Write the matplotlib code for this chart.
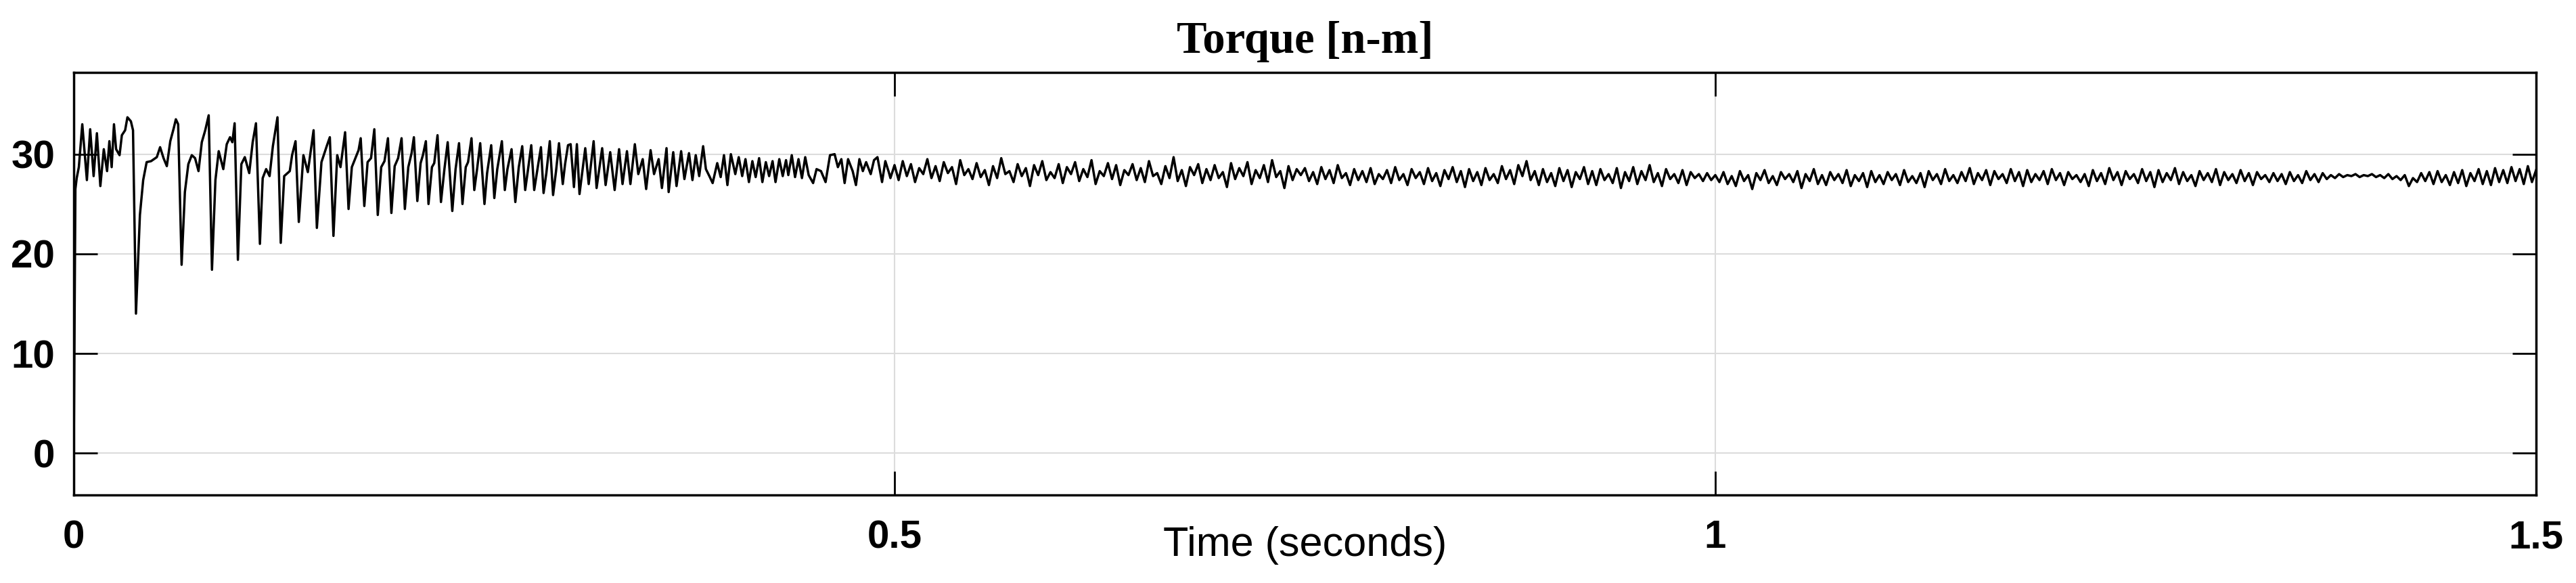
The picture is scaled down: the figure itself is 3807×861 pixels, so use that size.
import numpy as np
import matplotlib
matplotlib.use("Agg")
import matplotlib.pyplot as plt

# Start-up transient, time in s, torque in N-m
t_start = [0.0, 0.0010, 0.0018, 0.0031, 0.0052, 0.0080, 0.0100, 0.0121, 0.0141,
           0.0162, 0.0183, 0.0203, 0.0217, 0.0231, 0.0245, 0.0258, 0.0279,
           0.0293, 0.0313, 0.0327, 0.0348, 0.0361, 0.0379, 0.0403, 0.0423,
           0.0444, 0.0471, 0.0506, 0.0526, 0.0547, 0.0567, 0.0588, 0.0609,
           0.0622, 0.0636, 0.0657, 0.0677, 0.0698, 0.0719, 0.0739, 0.0760,
           0.0780, 0.0801, 0.0822, 0.0842, 0.0863, 0.0883, 0.0911, 0.0932,
           0.0952, 0.0966, 0.0980, 0.1000, 0.1021, 0.1042, 0.1069, 0.1090,
           0.1110, 0.1134, 0.1151, 0.1172, 0.1193, 0.1213, 0.1241, 0.1261,
           0.1282, 0.1316, 0.1330, 0.1351, 0.1371, 0.1399, 0.1426, 0.1461,
           0.1481]
v_start = [0.0, 26.5, 27.6, 28.7, 33.0, 27.4, 32.5, 27.8, 32.1,
           26.8, 30.5, 28.3, 31.3, 28.7, 33.0, 30.5, 29.9,
           31.9, 32.4, 33.7, 33.3, 32.4, 14.0, 23.9, 27.4,
           29.2, 29.3, 29.7, 30.7, 29.6, 28.8, 31.3, 32.6,
           33.5, 33.0, 18.9, 26.2, 29.0, 29.9, 29.6, 28.3,
           31.2, 32.4, 33.9, 18.4, 27.4, 30.3, 28.5, 31.0,
           31.7, 31.2, 33.1, 19.4, 29.0, 29.7, 28.1, 31.2,
           33.1, 21.0, 27.6, 28.5, 27.8, 30.8, 33.7, 21.1,
           27.8, 28.3, 29.9, 31.3, 23.2, 29.9, 28.2, 32.4,
           22.6]

# Decaying sawtooth ripple
t_ripple = [0.1509, 0.1543, 0.1560, 0.1582, 0.1605, 0.1625, 0.1653, 0.1674,
            0.1694, 0.1735, 0.1748, 0.1770, 0.1790, 0.1811, 0.1831, 0.1852,
            0.1873, 0.1893, 0.1914, 0.1935, 0.1955, 0.1976, 0.1997, 0.2017,
            0.2038, 0.2058, 0.2072, 0.2093, 0.2113, 0.2127, 0.2145, 0.2161,
            0.2182, 0.2196, 0.2216, 0.2237, 0.2258, 0.2278, 0.2306, 0.2326,
            0.2347, 0.2368, 0.2388, 0.2402, 0.2423, 0.2440, 0.2457, 0.2476,
            0.2502, 0.2518, 0.2543, 0.2562, 0.2580, 0.2608, 0.2626, 0.2642,
            0.2667, 0.2690, 0.2711, 0.2732, 0.2750, 0.2766, 0.2787, 0.2805,
            0.2821, 0.2846, 0.2862, 0.2879, 0.2900, 0.2920, 0.2938, 0.2956,
            0.2979, 0.2993, 0.3011]
v_ripple = [29.2, 30.9, 31.7, 21.8, 29.9, 28.7, 32.2, 24.5,
            28.7, 30.4, 31.6, 24.8, 29.2, 29.6, 32.5, 23.9,
            28.7, 29.3, 31.6, 24.1, 28.8, 29.6, 31.6, 24.5,
            28.7, 30.1, 31.7, 25.3, 29.1, 29.9, 31.3, 25.0,
            28.7, 29.1, 31.9, 25.2, 28.5, 31.2, 24.3, 28.5,
            31.1, 25.0, 28.7, 29.2, 31.6, 26.4, 28.5, 31.1,
            25.0, 28.1, 30.9, 25.6, 28.5, 31.3, 26.4, 28.5,
            30.5, 25.2, 28.7, 30.8, 26.4, 28.3, 30.9, 26.4,
            28.1, 30.7, 26.1, 28.1, 31.3, 25.9, 28.3, 31.1,
            27.0, 29.0, 30.9]

# Ripple settling down, 0.30 - 0.50 s
t_settle = [0.3027, 0.3047, 0.3065, 0.3081, 0.3116, 0.3137, 0.3167, 0.3185,
            0.3219, 0.3240, 0.3268, 0.3295, 0.3322, 0.3343, 0.3370, 0.3391,
            0.3418, 0.3439, 0.3466, 0.3487, 0.3514, 0.3535, 0.3563, 0.3583,
            0.3611, 0.3624, 0.3652, 0.3672, 0.3700, 0.3720, 0.3748, 0.3769,
            0.3789, 0.3810, 0.3834, 0.3851, 0.3872, 0.3892, 0.3920, 0.3941,
            0.3961, 0.3982, 0.4003, 0.4030, 0.4051, 0.4072, 0.4092, 0.4113,
            0.4134, 0.4154, 0.4175, 0.4195, 0.4216, 0.4236, 0.4257, 0.4275,
            0.4298, 0.4319, 0.4339, 0.4353, 0.4374, 0.4394, 0.4415, 0.4436,
            0.4456, 0.4477, 0.4504, 0.4525, 0.4552, 0.4580, 0.4607, 0.4635,
            0.4655, 0.4676, 0.4696, 0.4717, 0.4745, 0.4765, 0.4786, 0.4807,
            0.4827, 0.4855, 0.4875, 0.4896, 0.4924, 0.4944, 0.4965, 0.4975]
v_settle = [31.0, 26.7, 31.0, 26.0, 30.6, 27.0, 31.3, 26.6,
            30.6, 26.9, 30.2, 26.4, 30.5, 27.0, 30.3, 27.0,
            31.0, 28.0, 29.5, 26.5, 30.4, 28.0, 29.5, 26.6,
            30.6, 26.2, 30.2, 26.8, 30.3, 27.5, 30.1, 27.4,
            29.9, 27.8, 30.8, 28.5, 27.8, 27.1, 29.1, 27.7,
            29.9, 26.9, 30.0, 28.0, 29.7, 27.8, 29.5, 27.2,
            29.3, 27.7, 29.6, 27.2, 29.2, 27.8, 29.3, 27.2,
            29.5, 27.8, 29.4, 27.9, 29.9, 27.7, 29.5, 27.6,
            29.7, 27.9, 27.1, 28.5, 28.3, 27.2, 29.9, 30.0,
            28.7, 29.5, 27.1, 29.5, 28.3, 26.9, 29.5, 28.3,
            29.2, 28.0, 29.4, 29.7, 27.2, 29.3, 28.2, 27.6]

# Steady state, one value every 2.5 ms from 0.50 s to 1.50 s
steady_dt = 0.0025
v_steady = [
    28.9, 27.4, 29.3, 27.8, 29.0, 27.2, 28.6, 28.0, 29.5, 27.6, 28.8, 27.3, 29.2, 28.1, 28.7, 27.0, 29.4, 27.9, 28.5, 27.5,
    29.1, 27.7, 28.4, 26.9, 28.8, 27.6, 29.6, 28.0, 28.3, 27.2, 29.0, 27.8, 28.6, 26.8, 28.9, 27.9, 29.3, 27.4, 28.2, 27.6,
    29.0, 27.1, 28.7, 28.0, 29.2, 27.3, 28.5, 27.7, 29.4, 27.0, 28.3, 27.8, 29.1, 27.5, 28.9, 26.9, 28.4, 27.9, 29.0, 27.4,
    28.6, 27.2, 29.3, 27.8, 28.1, 27.0, 28.8, 27.6, 29.7, 27.3, 28.4, 26.8, 28.7, 27.9, 29.0, 27.1, 28.5, 27.4, 28.9, 27.6,
    28.2, 26.7, 29.1, 27.5, 28.6, 27.8, 29.2, 27.0, 28.4, 27.6, 28.9, 27.2, 29.4, 27.7, 28.3, 26.6, 28.8, 27.4, 28.5, 27.9,
    28.6, 27.3, 28.2, 27.0, 28.7, 27.5, 28.4, 27.1, 28.9, 27.6, 28.1, 26.9, 28.5, 27.4, 28.3, 27.2, 28.6, 27.0, 28.0, 27.5,
    28.4, 27.1, 28.7, 27.4, 28.0, 26.9, 28.5, 27.6, 28.2, 27.0, 28.6, 27.3, 28.1, 26.8, 28.4, 27.5, 28.7, 27.2, 28.3, 26.7,
    28.5, 27.3, 28.2, 26.9, 28.6, 27.4, 28.0, 27.1, 28.8, 27.5, 28.4, 27.0, 28.9, 27.8, 29.3, 27.4, 28.3, 26.9, 28.5, 27.2,
    28.1, 26.8, 28.6, 27.3, 28.4, 26.7, 28.2, 27.5, 28.7, 27.0, 28.3, 26.9, 28.5, 27.4, 28.0, 27.1, 28.6, 26.6, 28.2, 27.3,
    28.7, 27.0, 28.3, 27.4, 28.9, 27.2, 28.1, 26.8, 28.5, 27.5, 28.0, 27.1, 28.4, 26.9, 28.2, 27.6, 28.0, 27.3, 28.1, 27.4,
    27.9, 27.2, 28.2, 27.0, 27.8, 26.8, 28.3, 27.3, 27.9, 26.5, 28.1, 27.4, 28.4, 27.1, 27.8, 26.9, 28.2, 27.5, 28.0, 27.2,
    28.3, 26.6, 28.0, 27.3, 28.5, 27.0, 27.9, 26.9, 28.2, 27.4, 28.0, 27.1, 28.4, 26.8, 27.9, 27.3, 28.1, 26.7, 28.3, 27.2,
    27.9, 27.0, 28.2, 27.4, 28.0, 26.9, 28.4, 27.2, 27.8, 27.1, 28.1, 26.7, 28.3, 27.4, 28.0, 27.0, 28.5, 27.3, 27.9, 27.1,
    28.2, 27.3, 28.6, 27.0, 28.1, 27.4, 28.4, 26.9, 28.3, 27.5, 28.0, 27.1, 28.5, 27.3, 28.2, 26.8, 28.4, 27.2, 28.0, 27.4,
    28.3, 27.0, 28.5, 27.4, 28.1, 26.9, 28.2, 27.5, 27.9, 27.2, 28.0, 26.8, 28.4, 27.3, 28.1, 27.0, 28.6, 27.4, 28.2, 26.9,
    28.3, 27.5, 28.0, 27.1, 28.5, 27.3, 28.2, 26.7, 28.4, 27.2, 28.1, 27.4, 28.6, 27.0, 28.2, 27.3, 27.9, 26.8, 28.3, 27.4,
    28.1, 27.2, 28.5, 26.9, 28.2, 27.4, 28.0, 27.1, 28.4, 27.3, 28.1, 26.9, 28.2, 27.5, 27.9, 27.2, 28.1, 27.3, 28.0, 27.0,
    28.2, 27.3, 27.9, 27.1, 28.3, 27.4, 28.0, 27.2, 28.1, 27.5, 27.9, 27.6, 28.0, 27.7, 27.9, 27.8, 28.0, 27.7, 27.9, 27.8,
    28.0, 27.7, 27.9, 27.6, 28.0, 27.5, 27.8, 27.4, 27.9, 26.8, 27.6, 27.2, 28.1, 27.3, 28.2, 27.0, 28.3, 27.2, 27.9, 26.9,
    28.2, 27.1, 28.4, 26.8, 28.1, 27.3, 28.5, 27.0, 28.3, 26.9, 28.6, 27.2, 28.4, 27.1, 28.7, 27.3, 28.5, 27.0, 28.8, 27.2,
    28.4,
]

x_ticks = [0, 0.5, 1, 1.5]
x_tick_labels = ["0", "0.5", "1", "1.5"]
y_ticks = [0, 10, 20, 30]

t_steady = 0.5 + steady_dt * np.arange(len(v_steady))
t = np.concatenate([t_start, t_ripple, t_settle, t_steady])
v = np.concatenate([v_start, v_ripple, v_settle, v_steady])

W, H = 3807, 861
fig = plt.figure(figsize=(W / 100, H / 100), dpi=100)
ax = fig.add_axes([109 / W, 1 - 731 / H, (3748 - 109) / W, (731 - 107) / H])

ax.plot(t, v, color="black", linewidth=2.5)

ax.set_xlim(0, 1.5)
ax.set_ylim(-4.2, 38.2)
ax.set_xticks(x_ticks)
ax.set_xticklabels(x_tick_labels)
ax.set_yticks(y_ticks)

ax.grid(True, color="#dcdcdc", linewidth=1.5)
ax.set_axisbelow(True)
for sp in ax.spines.values():
    sp.set_linewidth(2.5)
    sp.set_color("black")

ax.tick_params(axis="both", direction="in", length=25, width=2,
               top=True, right=True, labelsize=42)
ax.tick_params(axis="x", pad=26)
ax.tick_params(axis="y", pad=20)
for lab in ax.get_xticklabels() + ax.get_yticklabels():
    lab.set_fontfamily("Liberation Sans")
    lab.set_fontweight("bold")

ax.set_title("Torque [n-m]", fontfamily="Liberation Serif", fontweight="bold",
             fontsize=48, pad=21)

ax.set_xlabel("Time (seconds)", fontfamily="Liberation Sans", fontsize=44)
ax.xaxis.set_label_coords(0.5, -(805 - 731) / (731 - 107))
ax.xaxis.label.set_verticalalignment("center")

fig.savefig("out.png", dpi=100)
